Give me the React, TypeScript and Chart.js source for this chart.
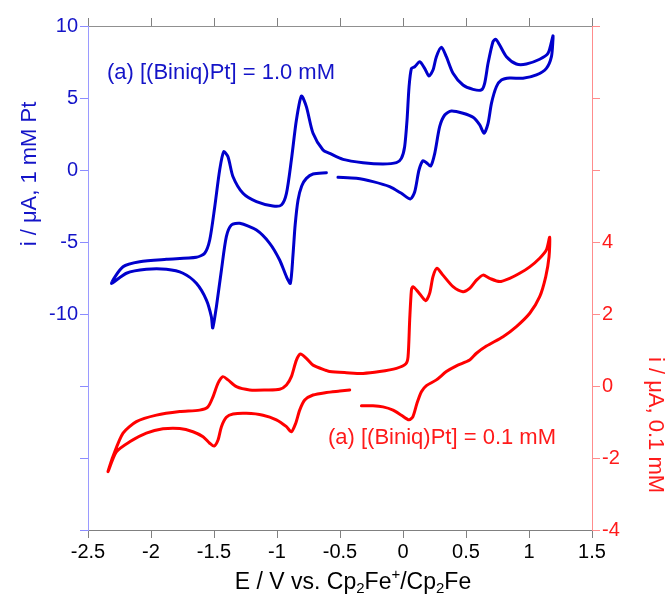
import React, { useEffect, useRef } from 'react';
import { Chart, registerables } from 'chart.js';

Chart.register(...registerables);

// ---- data (E / V vs Fc+/Fc, i / µA) ----
const blueX = [
  -0.516, -0.370, -0.238, -0.106, -0.013, 0.059, 0.093, 0.127, 0.159, 0.186, 0.220, 0.252, 0.291, 0.331, 0.384,
  0.476, 0.556, 0.609, 0.643, 0.675, 0.702, 0.741, 0.781, 0.847, 0.952, 1.059, 1.138, 1.178, 1.190, 1.190,
  1.151, 1.085, 0.979, 0.900, 0.821, 0.767, 0.736, 0.714, 0.675, 0.648, 0.622, 0.556, 0.476, 0.397, 0.344,
  0.305, 0.265, 0.238, 0.206, 0.172, 0.133, 0.093, 0.067, 0.048, 0.032, 0.013, -0.013, -0.052, -0.159, -0.317,
  -0.476, -0.582, -0.635, -0.714, -0.767, -0.806, -0.846, -0.886, -0.925, -0.965, -1.032, -1.163, -1.270, -1.349,
  -1.389, -1.423, -1.455, -1.494, -1.534, -1.574, -1.640, -1.878, -2.090, -2.222, -2.314,
  -2.195, -2.037, -1.878, -1.746, -1.640, -1.560, -1.521, -1.510, -1.481, -1.441, -1.402, -1.362, -1.296, -1.163,
  -1.058, -0.979, -0.925, -0.894, -0.873, -0.856, -0.833, -0.804, -0.767, -0.714, -0.608,
];
const blueY = [
  -0.51, -0.58, -0.81, -1.16, -1.62, -2.01, -1.51, 0.0, 0.65, 0.51, 0.28, 1.16, 3.01, 3.82, 4.10,
  3.94, 3.66, 3.13, 2.55, 3.24, 4.63, 5.78, 6.25, 6.39, 6.37, 6.60, 7.06, 7.87, 9.03, 9.31,
  8.10, 7.69, 7.36, 7.36, 7.87, 8.68, 9.08, 8.91, 7.41, 6.02, 5.56, 5.60, 5.90, 6.72, 7.87,
  8.52, 7.87, 6.94, 6.53, 7.06, 7.52, 7.17, 7.06, 5.78, 3.47, 1.62, 0.81, 0.51, 0.42, 0.51,
  0.74, 1.16, 1.39, 2.55, 4.40, 5.14, 3.47, 0.69, -1.62, -2.43, -2.50, -2.20, -1.62, -0.47,
  0.92, 1.27, 0.0, -2.55, -4.86, -5.78, -6.06, -6.20, -6.37, -6.72, -7.87,
  -7.17, -6.90, -6.90, -7.17, -7.87, -9.03, -10.19, -10.97, -9.49, -6.94, -4.63, -3.82, -3.70, -4.17,
  -5.09, -6.25, -7.41, -7.87, -5.90, -3.82, -2.08, -1.11, -0.58, -0.28, -0.19,
];

const redX = [
  -0.330, -0.238, -0.159, -0.079, -0.013, 0.048, 0.079, 0.111, 0.146, 0.186, 0.265, 0.344, 0.424, 0.529, 0.583,
  0.662, 0.794, 0.900, 1.006, 1.085, 1.133, 1.159, 1.164,
  1.138, 1.085, 1.006, 0.926, 0.847, 0.767, 0.688, 0.635, 0.583, 0.529, 0.476, 0.397, 0.317, 0.270, 0.238,
  0.212, 0.180, 0.119, 0.079, 0.067, 0.053, 0.040, 0.021, -0.052, -0.185, -0.317, -0.449, -0.582, -0.608,
  -0.714, -0.767, -0.814, -0.846, -0.886, -0.925, -0.979, -1.084, -1.217, -1.322, -1.389, -1.429, -1.468,
  -1.508, -1.548, -1.614, -1.772, -1.957, -2.116, -2.222, -2.302, -2.341,
  -2.275, -2.169, -2.037, -1.905, -1.772, -1.667, -1.587, -1.534, -1.500, -1.468, -1.441, -1.402, -1.349,
  -1.243, -1.111, -1.005, -0.925, -0.886, -0.852, -0.820, -0.780, -0.714, -0.608, -0.502, -0.423,
];
const redY = [
  -0.55, -0.55, -0.58, -0.67, -0.81, -0.94, -0.85, -0.48, -0.16, 0.01, 0.17, 0.40, 0.56, 0.72, 0.91,
  1.11, 1.37, 1.65, 2.02, 2.48, 3.04, 3.59, 4.13,
  3.78, 3.55, 3.31, 3.13, 2.99, 2.90, 2.99, 3.08, 2.94, 2.71, 2.62, 2.76, 3.08, 3.27, 3.04,
  2.58, 2.37, 2.62, 2.76, 2.67, 1.83, 0.81, 0.61, 0.49, 0.40, 0.35, 0.37, 0.40, 0.43,
  0.58, 0.77, 0.89, 0.72, 0.26, 0.03, -0.09, -0.11, -0.11, -0.02, 0.17, 0.26, 0.08,
  -0.30, -0.58, -0.67, -0.71, -0.81, -0.99, -1.31, -1.96, -2.38,
  -1.83, -1.55, -1.31, -1.19, -1.18, -1.27, -1.41, -1.59, -1.67, -1.50, -1.13, -0.87, -0.78,
  -0.76, -0.81, -0.94, -1.13, -1.27, -1.04, -0.67, -0.39, -0.25, -0.18, -0.14, -0.11,
];

const xRange = [-2.5, 1.5];
const leftRange = [-25, 10];
const rightRange = [-4, 10];
const leftLabelMin = -10;
const rightLabelMax = 4;

const blueLabel = '(a) [(Biniq)Pt] = 1.0 mM';
const redLabel = '(a) [(Biniq)Pt] = 0.1 mM';
const leftTitle = 'i / \u03bcA, 1 mM Pt';
const rightTitle = 'i / \u03bcA, 0.1 mM';

const FONT = '"Liberation Sans", Arial, Helvetica, sans-serif';
const BLUE = '#0000cc';
const BLUE_TXT = '#1414c8';
const RED = '#ff0000';
const RED_TXT = '#ff1a1a';

const textPlugin = {
  id: 'textPlugin',
  afterDraw(chart: any) {
    const ctx = chart.ctx;
    ctx.save();
    ctx.textBaseline = 'middle';
    ctx.textAlign = 'left';
    ctx.font = `22px ${FONT}`;
    ctx.fillStyle = BLUE_TXT;
    ctx.fillText(blueLabel, 107, 73);
    ctx.fillStyle = RED_TXT;
    ctx.fillText(redLabel, 328, 438);

    // left title
    ctx.save();
    ctx.translate(30, 174);
    ctx.rotate(-Math.PI / 2);
    ctx.textAlign = 'center';
    ctx.fillStyle = BLUE_TXT;
    ctx.fillText(leftTitle, 0, 0);
    ctx.restore();

    // right title
    ctx.save();
    ctx.translate(655, 425);
    ctx.rotate(Math.PI / 2);
    ctx.textAlign = 'center';
    ctx.fillStyle = RED_TXT;
    ctx.fillText(rightTitle, 0, 0);
    ctx.restore();

    // x title with sub/superscripts
    const parts: [string, string][] = [
      ['E / V vs. Cp', 'n'], ['2', 'sub'], ['Fe', 'n'], ['+', 'sup'], ['/Cp', 'n'], ['2', 'sub'], ['Fe', 'n'],
    ];
    const mainFont = `23px ${FONT}`;
    const smallFont = `15px ${FONT}`;
    let total = 0;
    for (const [t, k] of parts) {
      ctx.font = k === 'n' ? mainFont : smallFont;
      total += ctx.measureText(t).width;
    }
    let x = 353 - total / 2;
    const y = 583;
    ctx.fillStyle = '#000';
    ctx.textAlign = 'left';
    for (const [t, k] of parts) {
      ctx.font = k === 'n' ? mainFont : smallFont;
      const dy = k === 'sub' ? 6 : k === 'sup' ? -8 : 0;
      ctx.fillText(t, x, y + dy);
      x += ctx.measureText(t).width;
    }
    ctx.restore();
  },
};

export default function App() {
  const ref = useRef<HTMLCanvasElement | null>(null);
  useEffect(() => {
    if (!ref.current) return;
    const blueData = blueX.map((x, i) => ({ x, y: blueY[i] }));
    const redData = redX.map((x, i) => ({ x, y: redY[i] }));
    const tickFont = { family: FONT, size: 20 };
    const chart = new Chart(ref.current, {
      type: 'scatter',
      data: {
        datasets: [
          {
            data: blueData,
            showLine: true,
            borderColor: BLUE,
            borderWidth: 3,
            pointRadius: 0,
            tension: 0.25,
            xAxisID: 'x',
            yAxisID: 'y',
            borderJoinStyle: 'round',
            borderCapStyle: 'round',
          },
          {
            data: redData,
            showLine: true,
            borderColor: RED,
            borderWidth: 3,
            pointRadius: 0,
            tension: 0.25,
            xAxisID: 'x',
            yAxisID: 'y2',
            borderJoinStyle: 'round',
            borderCapStyle: 'round',
          },
        ],
      } as any,
      options: {
        responsive: false,
        maintainAspectRatio: false,
        animation: false,
        layout: { padding: 0 },
        plugins: { legend: { display: false }, tooltip: { enabled: false } },
        scales: {
          x: {
            type: 'linear',
            position: 'bottom',
            min: xRange[0],
            max: xRange[1],
            ticks: {
              stepSize: 0.5,
              color: '#000',
              font: tickFont,
              padding: 2,
              maxRotation: 0,
              callback: (v: any) => String(Math.round(Number(v) * 10) / 10),
            },
            grid: { drawOnChartArea: false, drawTicks: true, tickLength: 8, color: '#808080', lineWidth: 1 },
            border: { color: '#808080', width: 1 },
            afterFit: (s: any) => { s.height = 73; },
          },
          x2: {
            type: 'linear',
            position: 'top',
            min: xRange[0],
            max: xRange[1],
            ticks: { stepSize: 0.5, display: false },
            grid: { drawOnChartArea: false, drawTicks: true, tickLength: 8, color: '#808080', lineWidth: 1 },
            border: { color: '#909090', width: 1 },
            afterFit: (s: any) => { s.height = 26; },
          },
          y: {
            type: 'linear',
            position: 'left',
            min: leftRange[0],
            max: leftRange[1],
            ticks: {
              stepSize: 5,
              color: BLUE_TXT,
              font: tickFont,
              padding: 2,
              callback: (v: any) => (Number(v) >= leftLabelMin ? String(v) : ''),
            },
            grid: { drawOnChartArea: false, drawTicks: true, tickLength: 8, color: '#8c8cff', lineWidth: 1 },
            border: { color: '#9a9aff', width: 1 },
            afterFit: (s: any) => { s.width = 88; },
          },
          y2: {
            type: 'linear',
            position: 'right',
            min: rightRange[0],
            max: rightRange[1],
            ticks: {
              stepSize: 2,
              color: RED_TXT,
              font: tickFont,
              padding: 2,
              callback: (v: any) => (Number(v) <= rightLabelMax ? String(v) : ''),
            },
            grid: { drawOnChartArea: false, drawTicks: true, tickLength: 8, color: '#ff8c8c', lineWidth: 1 },
            border: { color: '#ff8c8c', width: 1 },
            afterFit: (s: any) => { s.width = 74; },
          },
        },
      } as any,
      plugins: [textPlugin],
    });
    return () => chart.destroy();
  }, []);

  return (
    <div style={{ position: 'fixed', left: 0, top: 0, width: 666, height: 603, background: '#fff' }}>
      <canvas ref={ref} width={666} height={603} />
    </div>
  );
}
